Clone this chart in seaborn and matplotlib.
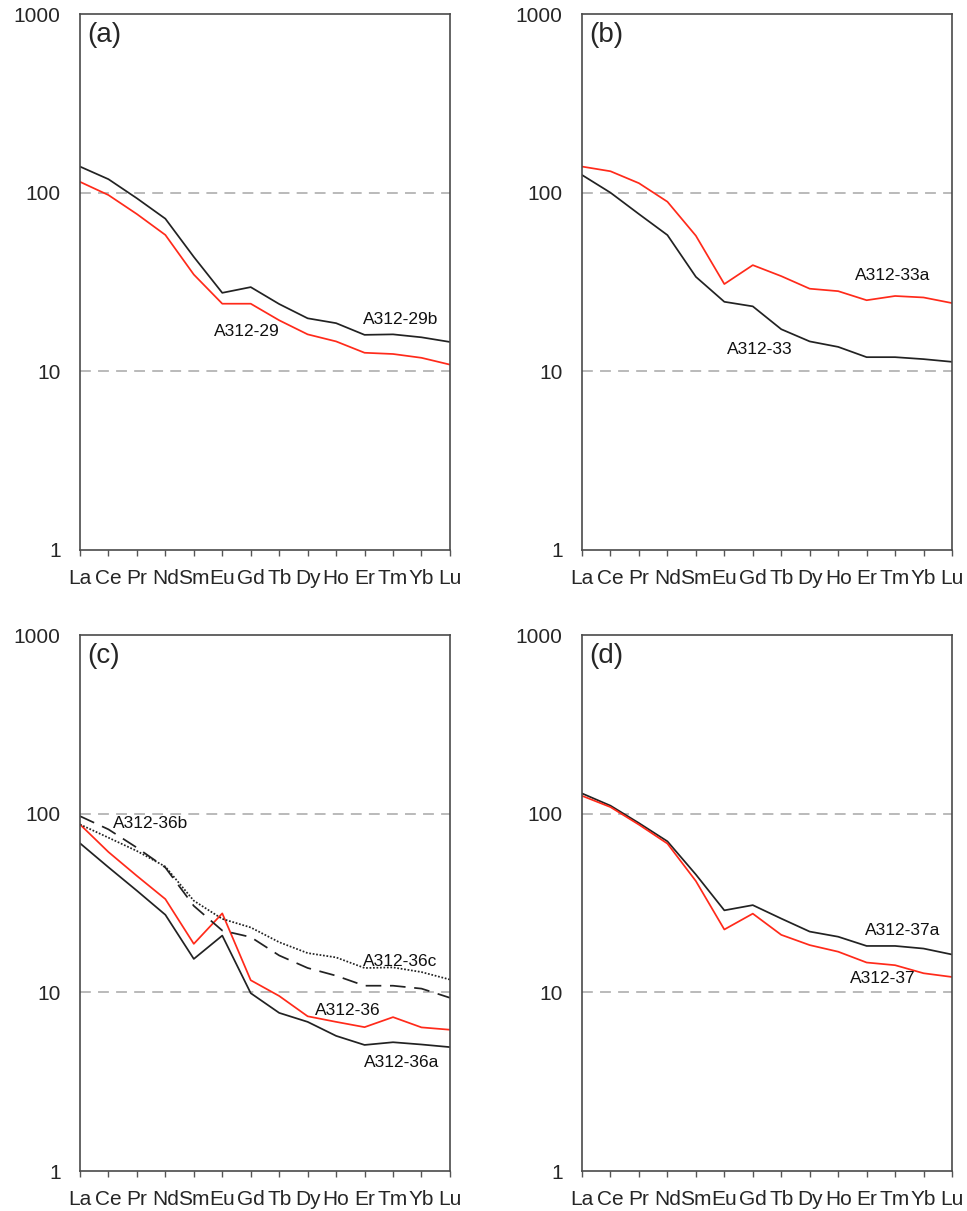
import numpy as np
import pandas as pd
import matplotlib
matplotlib.use("Agg")
import matplotlib.pyplot as plt
import seaborn as sns

elements = ["La", "Ce", "Pr", "Nd", "Sm", "Eu", "Gd", "Tb", "Dy", "Ho", "Er", "Tm", "Yb", "Lu"]

# panel (a)
a312_29b = [140, 119, 93, 71.5, 43.7, 27.5, 29.6, 23.8, 19.8, 18.6, 16.0, 16.1, 15.5, 14.6]
a312_29 = [115, 97, 75.9, 58, 34.8, 23.9, 23.9, 19.3, 16.1, 14.7, 12.7, 12.5, 11.9, 10.9]
# panel (b)
a312_33a = [140, 131.8, 113, 89, 57.4, 30.8, 39.3, 34.1, 29.0, 28.1, 25.0, 26.4, 25.9, 24.1]
a312_33 = [125.6, 100, 75.9, 57.9, 33.8, 24.5, 23.1, 17.2, 14.7, 13.7, 12.0, 12.0, 11.7, 11.3]
# panel (c)
a312_36a = [68.4, 50.2, 37.1, 27.2, 15.4, 20.8, 9.9, 7.68, 6.84, 5.71, 5.08, 5.26, 5.11, 4.94]
a312_36 = [87.2, 61.1, 44.9, 33.3, 18.7, 27.7, 11.7, 9.55, 7.35, 6.84, 6.39, 7.27, 6.37, 6.18]
a312_36b = [97, 81.8, 64.6, 50.0, 30.5, 22.2, 20.4, 16.1, 13.7, 12.4, 10.9, 10.9, 10.5, 9.33]
a312_36c = [87.2, 73.5, 61.9, 50.6, 32.6, 25.8, 23.1, 19.1, 16.6, 15.7, 13.7, 13.8, 13.0, 11.8]
# panel (d)
a312_37a = [130, 111, 88.7, 70.1, 45.7, 28.8, 30.8, 25.9, 21.9, 20.5, 18.2, 18.2, 17.6, 16.3]
a312_37 = [126, 109, 86.9, 68.1, 42.0, 22.5, 27.6, 21.0, 18.4, 16.9, 14.7, 14.2, 12.8, 12.2]

RED = "#ff2a1a"
BLACK = "#222222"

panels = [
    ("(a)", [("A312-29b", a312_29b, BLACK, "-"), ("A312-29", a312_29, RED, "-")],
     [("A312-29b", 9.95, 19.4), ("A312-29", 4.71, 16.6)]),
    ("(b)", [("A312-33a", a312_33a, RED, "-"), ("A312-33", a312_33, BLACK, "-")],
     [("A312-33a", 9.59, 34.2), ("A312-33", 5.08, 13.3)]),
    ("(c)", [("A312-36a", a312_36a, BLACK, "-"), ("A312-36", a312_36, RED, "-"),
             ("A312-36b", a312_36b, BLACK, (0, (9, 5))), ("A312-36c", a312_36c, BLACK, (0, (1, 1)))],
     [("A312-36b", 1.17, 88.1), ("A312-36c", 9.96, 14.9), ("A312-36", 8.26, 7.96), ("A312-36a", 9.99, 4.03)]),
    ("(d)", [("A312-37a", a312_37a, BLACK, "-"), ("A312-37", a312_37, RED, "-")],
     [("A312-37a", 9.93, 22.2), ("A312-37", 9.40, 11.9)]),
]

sns.set_style("white")
plt.rcParams['font.family'] = ['Liberation Sans', 'DejaVu Sans']

fig, axs = plt.subplots(2, 2, figsize=(9.67, 12.11), dpi=100)
plt.subplots_adjust(left=0.0827, right=0.9845, top=0.9884, bottom=0.033, wspace=0.357, hspace=0.159)

x = np.arange(len(elements))
for ax, (tag, series, labels) in zip(axs.flat, panels):
    for name, vals, col, ls in series:
        df = pd.DataFrame({"x": x, "y": vals})
        sns.lineplot(data=df, x="x", y="y", ax=ax, color=col, linestyle=ls, linewidth=1.25, legend=False)
    ax.set_yscale("log")
    ax.set_ylim(1, 1000)
    ax.set_xlim(0, len(elements) - 1)
    for lev in [10, 100]:
        ax.axhline(lev, color="#b4b4b4", linestyle=(0, (6, 4)), linewidth=1.3, zorder=0)
    ax.set_xticks(x)
    ax.set_xticklabels(elements)
    ax.set_yticks([1, 10, 100, 1000])
    ax.set_yticklabels(["1", "10", "100", "1000"])
    ax.minorticks_off()
    ax.tick_params(axis="x", direction="out", length=4.5, width=1.0, color="#555555",
                   labelsize=15, pad=9, bottom=True)
    ax.tick_params(axis="y", length=0, labelsize=15, pad=14)
    ax.set_xlabel("")
    ax.set_ylabel("")
    for sp in ax.spines.values():
        sp.set_color("#4a4a4a")
        sp.set_linewidth(1.2)
    ax.text(0.02, 0.985, tag, transform=ax.transAxes, fontsize=20, va="top", ha="left")
    for txt, tx, ty in labels:
        ax.text(tx, ty, txt, fontsize=12.5, va="center", ha="left", color="#111111")

fig.savefig("out.png", dpi=100)
